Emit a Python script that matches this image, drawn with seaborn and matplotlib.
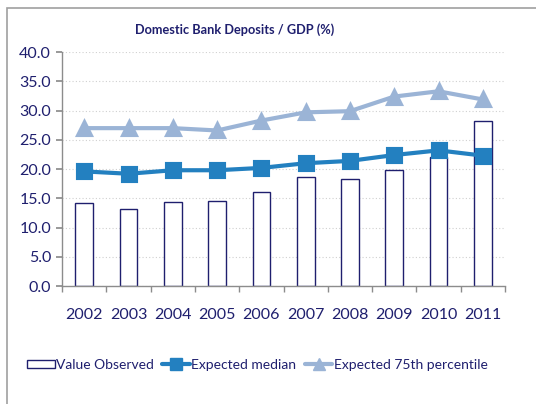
import numpy as np
import pandas as pd
import matplotlib
matplotlib.use("Agg")
import matplotlib.pyplot as plt
import seaborn as sns
from matplotlib.patches import Rectangle, Patch
from matplotlib.lines import Line2D

years = ["2002", "2003", "2004", "2005", "2006", "2007", "2008", "2009", "2010", "2011"]
observed = [14.2, 13.2, 14.4, 14.5, 16.1, 18.6, 18.3, 19.8, 22.0, 28.2]
median = [19.6, 19.2, 19.8, 19.8, 20.2, 21.0, 21.4, 22.4, 23.2, 22.3]
p75 = [27.0, 27.0, 27.0, 26.6, 28.3, 29.7, 29.9, 32.4, 33.3, 31.9]
yticks = [0, 5, 10, 15, 20, 25, 30, 35, 40]

sns.set_theme(style="white")
plt.rcParams['font.family'] = ['Lato', 'DejaVu Sans']

navy = "#1F1F6E"
c_med = "#2380C0"
c_75 = "#9BB4D6"

df = pd.DataFrame({"year": years, "observed": observed, "median": median, "p75": p75})

fig = plt.figure(figsize=(5.36, 4.04), dpi=100)
ax = fig.add_axes([0.116, 0.292, 0.826, 0.579])

fig.patches.append(Rectangle((7/536, -0.1), 1.2, 1 - 8/404 + 0.1, transform=fig.transFigure,
                             fill=False, edgecolor="#A0A0A0", linewidth=1.2, zorder=0))

sns.barplot(data=df, x="year", y="observed", color="white", edgecolor=navy,
            linewidth=1.0, width=0.4, ax=ax, zorder=2)
sns.pointplot(data=df, x="year", y="median", color=c_med, markers="s",
              markersize=10, linewidth=3, ax=ax, zorder=4)
sns.pointplot(data=df, x="year", y="p75", color=c_75, markers="^",
              markersize=10, linewidth=3, ax=ax, zorder=3)

ax.set_ylim(0, 40)
ax.set_xlim(-0.5, len(years) - 0.5)
ax.set_yticks(yticks)
ax.set_yticklabels([f"{v:.1f}" for v in yticks])
ax.set_xlabel("")
ax.set_ylabel("")
ax.yaxis.grid(True, linestyle=(0, (1, 2)), color="#D0D0D0", linewidth=0.8)
ax.set_axisbelow(True)
for s in ["top", "right"]:
    ax.spines[s].set_visible(False)
for s in ["left", "bottom"]:
    ax.spines[s].set_color("#8C8C8C")
    ax.spines[s].set_linewidth(1.0)
ax.tick_params(axis="y", left=True, length=4, color="#8C8C8C", labelsize=11.5, labelcolor=navy, pad=4)
ax.tick_params(axis="x", bottom=False, labelsize=11.5, labelcolor=navy, pad=10)
ax.set_xticks(np.arange(-0.5, len(years), 1.0), minor=True)
ax.tick_params(axis="x", which="minor", bottom=True, length=4, color="#8C8C8C")

ax.set_title("Domestic Bank Deposits / GDP (%)", fontsize=9.2, fontweight="bold",
             color=navy, x=0.39, pad=13)

handles = [
    Patch(facecolor="white", edgecolor=navy, linewidth=1.0),
    Line2D([], [], color=c_med, marker="s", markersize=8, linewidth=3),
    Line2D([], [], color=c_75, marker="^", markersize=8, linewidth=3),
]
labels = ["Value Observed", "Expected median", "Expected 75th percentile"]
leg = fig.legend(handles, labels, loc="center", bbox_to_anchor=(0.48, 0.097), ncol=3,
                 frameon=False, fontsize=10, handlelength=2.0, handleheight=0.6,
                 handletextpad=0.1, columnspacing=0.6)
for t in leg.get_texts():
    t.set_color(navy)

fig.savefig("out.png", dpi=100)
